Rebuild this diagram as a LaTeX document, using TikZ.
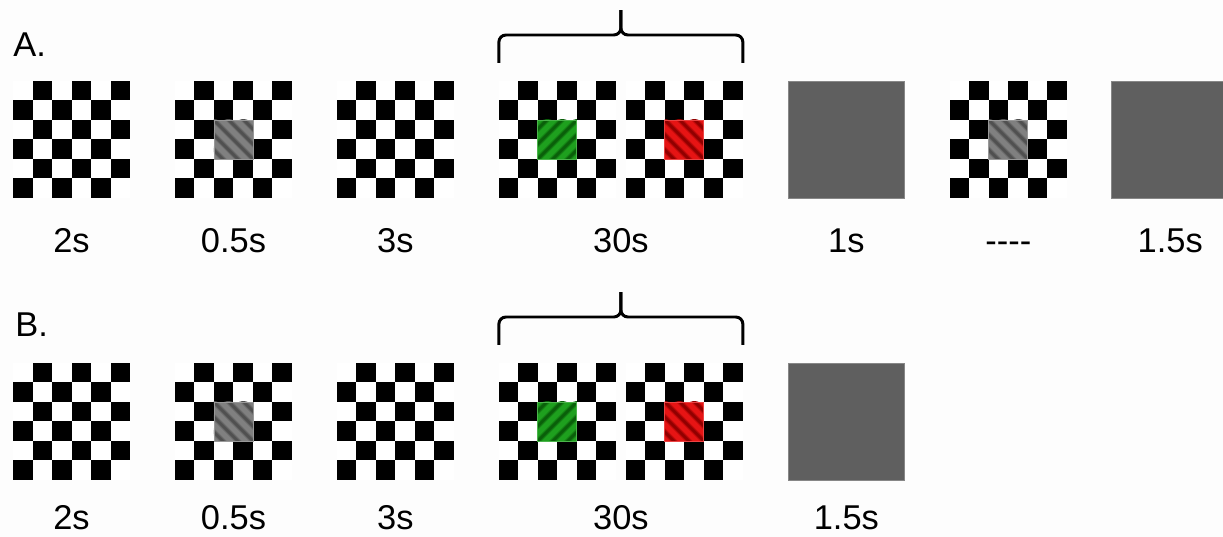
\documentclass[tikz,border=0pt]{standalone}
\usepackage{fontspec}
\setmainfont{Liberation Sans}
\usepackage{tikz}
\usetikzlibrary{positioning, calc}
\usepackage{xcolor}
\definecolor{paper}{RGB}{253,253,253}
\definecolor{screen}{RGB}{95,95,95}
\definecolor{gratgrey}{RGB}{128,128,128}
\definecolor{gratgreydark}{RGB}{80,80,80}
\definecolor{gratgreen}{RGB}{30,160,30}
\definecolor{gratgreendark}{RGB}{10,95,10}
\definecolor{gratred}{RGB}{230,20,20}
\definecolor{gratreddark}{RGB}{145,0,0}

\begin{document}
\begin{tikzpicture}[
    x=0.02cm, y=0.02cm,
    node distance=0.9cm,
    board/.style={rectangle, minimum size=2.34cm, inner sep=0pt, outer sep=0pt,
                  fill=white,
                  path picture={
                    \foreach \row in {0,...,5}
                      \foreach \col in {0,...,5}{
                        \ifodd\numexpr\row+\col\relax
                          \fill[black] ([shift={(\col*19.5,-\row*19.5)}]path picture bounding box.north west)
                            rectangle ++(19.5,-19.5);
                        \fi
                      }
                  }},
    grating/.style n args={3}{rectangle, minimum size=0.78cm, inner sep=0pt,
                  outer sep=0pt, fill=#1, draw=#1!80!white, line width=0.5pt,
                  path picture={
                    \foreach \k in {-3,...,3}{
                      \draw[#2, line width=3pt, opacity=0.45]
                        ([shift={(\k*15,0)}]path picture bounding box.center)
                        ++({-30*#3},30) -- ++({60*#3},-60);
                      \draw[#2, line width=1.6pt]
                        ([shift={(\k*15,0)}]path picture bounding box.center)
                        ++({-30*#3},30) -- ++({60*#3},-60);
                    }
                  }},
    greypatch/.style={grating={gratgrey}{gratgreydark}{1}},
    greenpatch/.style={grating={gratgreen}{gratgreendark}{-1}},
    redpatch/.style={grating={gratred}{gratreddark}{1}},
    blank/.style={rectangle, minimum size=2.34cm, inner sep=0pt, outer sep=0pt,
                  fill=screen, draw=screen!75!white, line width=0.4pt},
    lbl/.style={font=\fontsize{19.6}{23}\selectfont, inner sep=0pt, anchor=base},
    panel/.style={font=\fontsize{19.6}{23}\selectfont, inner sep=0pt, anchor=base west},
    curly/.style={line width=1.7pt, rounded corners=4pt},
]

% Page
\fill[paper] (0,0) rectangle (1223,537);
\useasboundingbox (0,0) rectangle (1223,537);

% Panel A: screens
\node[panel] (labA) at (13,480) {A.};
\node[board, anchor=north west] (A1) at (13,456) {};
\node[board, right=of A1] (A2) {};
\node[board, right=of A2] (A3) {};
\node[board, right=of A3] (A4) {};
\node[board, right=0.2cm of A4] (A5) {};
\node[blank, right=of A5] (A6) {};
\node[board, right=of A6] (A7) {};
\node[blank, right=of A7] (A8) {};

% Panel A: gratings
\node[greypatch] (gA2) at (A2) {};
\node[greenpatch] (gA4) at (A4) {};
\node[redpatch] (gA5) at (A5) {};
\node[greypatch] (gA7) at (A7) {};

% Panel A: brace
\coordinate (midA) at ($(A4.north west)!0.5!(A5.north east)$);
\draw[curly] ([yshift=0.36cm]A4.north west) |- ([yshift=0.92cm]midA) -- ([yshift=1.42cm]midA);
\draw[curly] ([yshift=0.36cm]A5.north east) |- ([yshift=0.92cm]midA) -- ([yshift=1.42cm]midA);

% Panel A: durations
\node[lbl] (tA1) at ([yshift=-1.1cm]A1.south) {2s};
\node[lbl] (tA2) at ([yshift=-1.1cm]A2.south) {0.5s};
\node[lbl] (tA3) at ([yshift=-1.1cm]A3.south) {3s};
\node[lbl] (tA4) at ($(A4.south west)!0.5!(A5.south east)+(0,-55)$) {30s};
\node[lbl] (tA6) at ([yshift=-1.1cm]A6.south) {1s};
\node[lbl] (tA7) at ([yshift=-1.1cm]A7.south) {-\kern0pt-\kern0pt-\kern0pt-};
\node[lbl] (tA8) at ([yshift=-1.1cm]A8.south) {1.5s};

% Panel B: screens
\node[panel] (labB) at (15,200) {B.};
\node[board, anchor=north west] (B1) at (13,174) {};
\node[board, right=of B1] (B2) {};
\node[board, right=of B2] (B3) {};
\node[board, right=of B3] (B4) {};
\node[board, right=0.2cm of B4] (B5) {};
\node[blank, right=of B5] (B6) {};

% Panel B: gratings
\node[greypatch] (gB2) at (B2) {};
\node[greenpatch] (gB4) at (B4) {};
\node[redpatch] (gB5) at (B5) {};

% Panel B: brace
\coordinate (midB) at ($(B4.north west)!0.5!(B5.north east)$);
\draw[curly] ([yshift=0.36cm]B4.north west) |- ([yshift=0.92cm]midB) -- ([yshift=1.42cm]midB);
\draw[curly] ([yshift=0.36cm]B5.north east) |- ([yshift=0.92cm]midB) -- ([yshift=1.42cm]midB);

% Panel B: durations
\node[lbl] (tB1) at ([yshift=-1.0cm]B1.south) {2s};
\node[lbl] (tB2) at ([yshift=-1.0cm]B2.south) {0.5s};
\node[lbl] (tB3) at ([yshift=-1.0cm]B3.south) {3s};
\node[lbl] (tB4) at ($(B4.south west)!0.5!(B5.south east)+(0,-50)$) {30s};
\node[lbl] (tB6) at ([yshift=-1.0cm]B6.south) {1.5s};

\end{tikzpicture}
\end{document}
